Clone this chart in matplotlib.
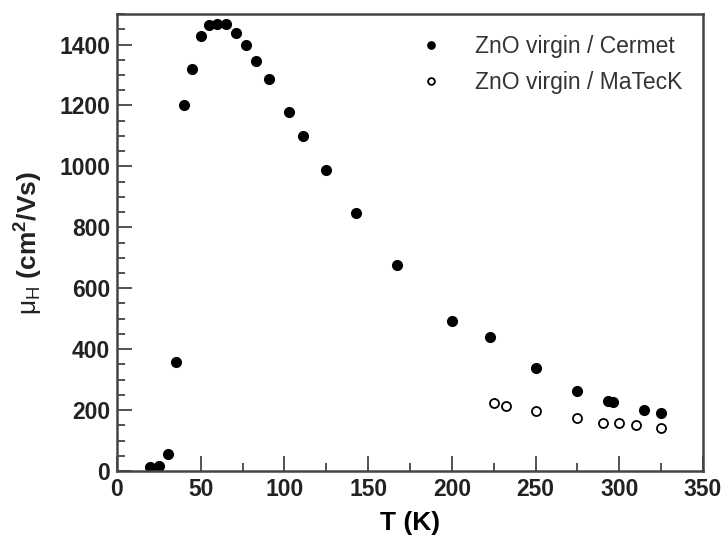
import matplotlib
matplotlib.use("Agg")
import matplotlib.pyplot as plt
from matplotlib.ticker import MultipleLocator

plt.rcParams['font.family'] = ['Liberation Sans', 'DejaVu Sans']
plt.rcParams['mathtext.fontset'] = 'custom'
plt.rcParams['mathtext.rm'] = 'Liberation Sans'
plt.rcParams['mathtext.it'] = 'Liberation Sans'
plt.rcParams['mathtext.bf'] = 'Liberation Sans:bold'

# Hall mobility vs temperature, Cermet sample
t_cermet = [20, 25, 30.5, 35, 40, 45, 50, 55, 60, 65, 71, 77, 83, 91, 103, 111,
            125, 143, 167, 200, 222.5, 250, 275, 293.5, 296, 314.5, 325]
mu_cermet = [12, 16, 56, 359, 1202, 1320, 1427, 1465, 1469, 1468, 1437, 1397,
             1347, 1287, 1179, 1101, 988, 846, 676, 494, 441, 337, 264, 230,
             226, 200, 189]

# MaTecK sample
t_mateck = [225, 232.5, 250, 275, 290, 300, 310, 325]
mu_mateck = [222, 213, 196, 175, 158, 156, 150, 141]

fig = plt.figure(figsize=(7.24, 5.43), dpi=100)
ax = fig.add_axes([0.1616, 0.1326, 0.8094, 0.8414])

ax.plot(t_cermet, mu_cermet, 'o', color='black', markersize=7,
        label='ZnO virgin / Cermet')
ax.plot(t_mateck, mu_mateck, 'o', markerfacecolor='white', markeredgecolor='black',
        markeredgewidth=1.3, markersize=6.5, label='ZnO virgin / MaTecK')

ax.set_xlim(0, 350)
ax.set_ylim(0, 1500)
ax.xaxis.set_major_locator(MultipleLocator(50))
ax.xaxis.set_minor_locator(MultipleLocator(25))
ax.yaxis.set_major_locator(MultipleLocator(200))
ax.yaxis.set_minor_locator(MultipleLocator(50))

for s in ax.spines.values():
    s.set_color('#444444')
    s.set_linewidth(1.8)
ax.tick_params(which='major', direction='in', length=11, width=1.3, color='#444444',
               labelsize=16.5, pad=5)
ax.tick_params(which='minor', direction='in', length=6, width=1.3, color='#444444')
for lbl in ax.get_xticklabels() + ax.get_yticklabels():
    lbl.set_fontweight('bold')
    lbl.set_color('#222222')

ax.set_xlabel('T (K)', fontsize=19, fontweight='bold', labelpad=7)
ax.set_ylabel(r'$\mathrm{\mu_H}$ (cm$^\mathbf{2}$/Vs)', fontsize=19,
              fontweight='bold', labelpad=10, color='#222222')

leg = ax.legend(loc='upper right', frameon=False, fontsize=16.5, handletextpad=1.3,
                markerscale=0.75, borderaxespad=0.5, labelspacing=0.6,
                handlelength=1.2, borderpad=0.4)
for txt in leg.get_texts():
    txt.set_color('#333333')

fig.savefig('out.png', dpi=100)
